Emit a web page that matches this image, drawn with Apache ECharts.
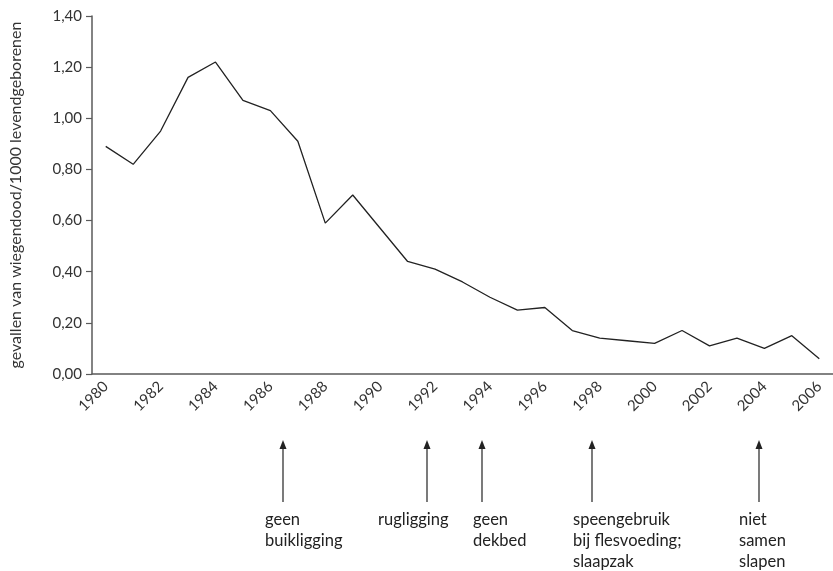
<!DOCTYPE html>
<html>
<head>
<meta charset="utf-8">
<script src="https://cdn.jsdelivr.net/npm/echarts@6/dist/echarts.min.js"></script>
<style>
  html, body { margin: 0; padding: 0; background: #fff; }
  #chart { width: 833px; height: 571px; }
</style>
</head>
<body>
<div id="chart"></div>
<script>
// jaren en gevallen van wiegendood per 1000 levendgeborenen
const years = ['1980', '1981', '1982', '1983', '1984', '1985', '1986', '1987', '1988', '1989',
  '1990', '1991', '1992', '1993', '1994', '1995', '1996', '1997', '1998', '1999',
  '2000', '2001', '2002', '2003', '2004', '2005', '2006'];
const cases = [0.89, 0.82, 0.95, 1.16, 1.22, 1.07, 1.03, 0.91, 0.59, 0.70,
  0.57, 0.44, 0.41, 0.36, 0.30, 0.25, 0.26, 0.17, 0.14, 0.13,
  0.12, 0.17, 0.11, 0.14, 0.10, 0.15, 0.06];

// maatregelen onder de grafiek
const measures = [
  { x: 283, text: 'geen\nbuikligging', left: 265 },
  { x: 427, text: 'rugligging', left: 378 },
  { x: 482, text: 'geen\ndekbed', left: 473 },
  { x: 592, text: 'speengebruik\nbij flesvoeding;\nslaapzak', left: 573 },
  { x: 759, text: 'niet\nsamen\nslapen', left: 739 }
];

const font = 'Lato, "Open Sans", sans-serif';
const axisColor = '#5a5a5a';

const chart = echarts.init(document.getElementById('chart'));

// pijlen en teksten
const graphics = [];
measures.forEach(m => {
  graphics.push({
    type: 'line',
    shape: { x1: m.x, y1: 446, x2: m.x, y2: 502 },
    style: { stroke: '#222', lineWidth: 1.2 }
  });
  graphics.push({
    type: 'polygon',
    shape: { points: [[m.x, 440], [m.x - 3.5, 449], [m.x + 3.5, 449]] },
    style: { fill: '#222' }
  });
  graphics.push({
    type: 'text',
    left: m.left,
    top: 509,
    style: {
      text: m.text,
      font: '16.5px ' + font,
      fill: '#222',
      lineHeight: 21
    }
  });
});

const option = {
  animation: false,
  grid: { left: 92, top: 16, width: 748, height: 358 },
  xAxis: {
    type: 'category',
    data: years,
    boundaryGap: true,
    axisLine: { lineStyle: { color: axisColor, width: 1.5 } },
    axisTick: { interval: 0, length: 6, lineStyle: { color: '#333', width: 1.2 } },
    axisLabel: {
      interval: 1,
      rotate: 45,
      margin: 10,
      color: '#333',
      fontFamily: font,
      fontSize: 15
    }
  },
  yAxis: {
    type: 'value',
    min: 0,
    max: 1.4,
    interval: 0.2,
    name: 'gevallen van wiegendood/1000 levendgeborenen',
    nameLocation: 'middle',
    nameGap: 68,
    nameTextStyle: { color: '#333', fontFamily: font, fontSize: 16 },
    splitLine: { show: false },
    axisLine: { show: true, lineStyle: { color: axisColor, width: 1.5 } },
    axisTick: { show: true, length: 6, lineStyle: { color: axisColor, width: 1.2 } },
    axisLabel: {
      margin: 10,
      color: '#333',
      fontFamily: font,
      fontSize: 15,
      formatter: v => v.toFixed(2).replace('.', ',')
    }
  },
  series: [{
    type: 'line',
    data: cases,
    symbol: 'none',
    lineStyle: { color: '#222', width: 1.3 }
  }],
  graphic: graphics
};

chart.setOption(option);
</script>
</body>
</html>
